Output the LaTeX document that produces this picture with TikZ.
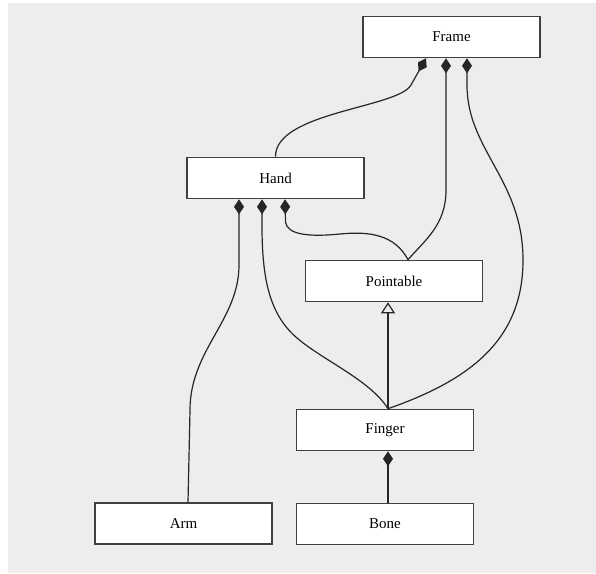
\documentclass[tikz,border=0pt]{standalone}
\usepackage{fontspec}
\setmainfont{Liberation Serif}
\usetikzlibrary{arrows.meta}
\begin{document}
\begin{tikzpicture}[x=1pt,y=1pt,
  box/.style={draw=black!75, line width=1.6pt, fill=white, minimum width=177pt,
    minimum height=41pt, inner sep=0pt, font=\fontsize{15}{18}\selectfont},
  link/.style={line width=1.2pt, draw=black!85},
  comp/.style={link, {Diamond[length=15pt,width=10pt]}-},
  gen/.style={link, -{Triangle[open,length=11pt,width=14pt]}}]
\fill[white] (0,0) rectangle (596,-573);
\fill[gray!14] (8,-3) rectangle (596,-573);
\useasboundingbox (0,0) rectangle (596,-573);
% classes
\node[box] (frame)  at (451.5,-37)   {Frame};
\node[box] (hand)   at (275.5,-178)  {Hand};
\node[box] (point)  at (394,-281)    {Pointable};
\node[box] (finger) at (385,-430)    {Finger};
\node[box] (arm)    at (183.5,-523.5){Arm};
\node[box] (bone)   at (385,-524)    {Bone};
% Frame compositions
\draw[comp] ([xshift=-25.5pt]frame.south) -- (411,-85) .. controls (398,-108) and (275,-112) .. (hand.north);
\draw[comp] ([xshift=-5.5pt]frame.south) -- (446,-190) .. controls (446,-225) and (425,-240) .. ([xshift=14pt]point.north);
\draw[comp] ([xshift=15.5pt]frame.south) -- (467,-85) .. controls (467,-150) and (523,-180) .. (523,-260)
  .. controls (523,-340) and (470,-380) .. ([xshift=3pt]finger.north);
% Hand compositions
\draw[comp] ([xshift=-36.5pt]hand.south) -- (239,-265) .. controls (239,-320) and (190,-350) .. (190,-410)
  -- ([xshift=4.5pt]arm.north);
\draw[comp] ([xshift=-13.5pt]hand.south) -- (262,-226) .. controls (262,-280) and (270,-315) .. (297,-338)
  .. controls (324,-361) and (370,-380) .. ([xshift=3pt]finger.north);
\draw[comp] ([xshift=9.5pt]hand.south) -- (285.5,-222) .. controls (287,-235) and (310,-237) .. (340,-234)
  .. controls (370,-231) and (395,-235) .. ([xshift=14pt]point.north);
% generalisation
\draw[gen] ([xshift=3pt]finger.north) -- ([xshift=-6pt]point.south);
% Finger - Bone
\draw[comp] ([xshift=3pt]finger.south) -- ([xshift=3pt]bone.north);
\end{tikzpicture}
\end{document}
